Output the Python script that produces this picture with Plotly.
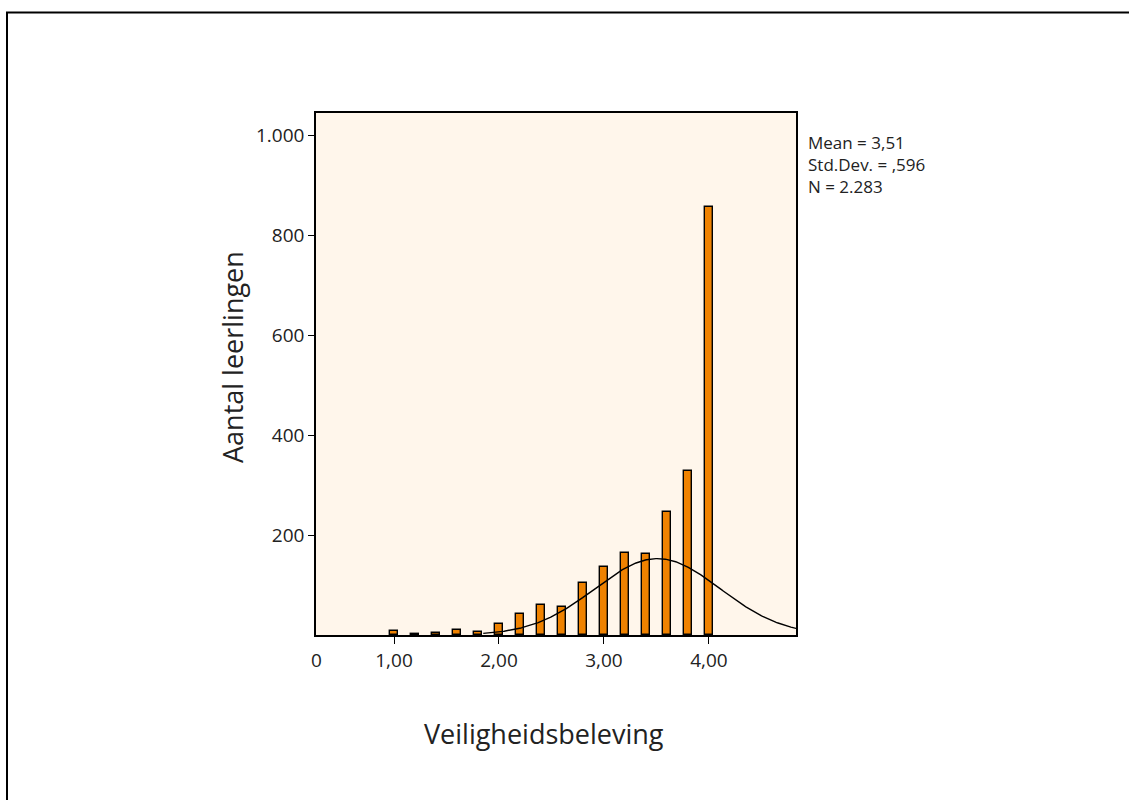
import numpy as np
import plotly.graph_objects as go

# Data
bin_centers = [1.0, 1.2, 1.4, 1.6, 1.8, 2.0, 2.2, 2.4, 2.6, 2.8, 3.0, 3.2, 3.4, 3.6, 3.8, 4.0]
counts = [9, 3, 5, 10, 7, 23, 43, 61, 57, 105, 137, 165, 163, 247, 329, 857]
MEAN = 3.51
SD = 0.596
N = 2283
CURVE_BIN = 0.1

x_tickvals = [1, 2, 3, 4]
x_ticktext = ["1,00", "2,00", "3,00", "4,00"]
y_tickvals = [200, 400, 600, 800, 1000]
y_ticktext = ["200", "400", "600", "800", "1.000"]
stats_lines = ["Mean = 3,51", "Std.Dev. = ,596", "N = 2.283"]

FONT = "Open Sans"

xs = np.linspace(1.85, 4.83, 300)
curve = N * CURVE_BIN / (SD * np.sqrt(2 * np.pi)) * np.exp(-0.5 * ((xs - MEAN) / SD) ** 2)

fig = go.Figure()
fig.add_trace(go.Bar(
    x=bin_centers, y=counts, width=0.072,
    marker=dict(color="#EF8200", line=dict(color="black", width=1.4)),
    showlegend=False, hoverinfo="x+y",
))
fig.add_trace(go.Scatter(
    x=xs, y=curve, mode="lines", line=dict(color="black", width=1.4),
    showlegend=False, hoverinfo="skip",
))

L, R, T, B = 316, 796, 113, 635
PW, PH = R - L, B - T

def px(x):
    return (x - L) / PW

def py(y):
    return (B - y) / PH

annotations = [
    dict(text="0", xref="paper", yref="paper", x=px(316), y=py(660),
         showarrow=False, font=dict(size=19), xanchor="center", yanchor="middle"),
    dict(text="Veiligheidsbeleving", xref="paper", yref="paper", x=px(544), y=py(733),
         showarrow=False, font=dict(size=27), xanchor="center", yanchor="middle"),
    dict(text="Aantal leerlingen", xref="paper", yref="paper", x=px(232), y=py(357),
         showarrow=False, font=dict(size=27), textangle=-90, xanchor="center", yanchor="middle"),
    dict(text="<br>".join(stats_lines), xref="paper", yref="paper",
         x=px(807), y=py(130), showarrow=False, font=dict(size=17), align="left",
         xanchor="left", yanchor="top", borderpad=0),
]

fig.update_layout(
    width=1129, height=800,
    margin=dict(l=L, r=1129 - R, t=T, b=800 - B),
    paper_bgcolor="white",
    plot_bgcolor="#FFF6EB",
    font=dict(family=FONT, size=19, color="#222"),
    xaxis=dict(
        range=[0.257, 4.829], tickvals=x_tickvals, ticktext=x_ticktext,
        ticks="outside", ticklen=7, tickwidth=1.3, tickcolor="black",
        showline=True, mirror=True, linecolor="black", linewidth=1.5,
        showgrid=False, zeroline=False, tickfont=dict(size=19),
    ),
    yaxis=dict(
        range=[0, 1044], tickvals=y_tickvals, ticktext=y_ticktext,
        ticks="outside", ticklen=6, tickwidth=1.3, tickcolor="black",
        showline=True, mirror=True, linecolor="black", linewidth=1.5,
        showgrid=False, zeroline=False, tickfont=dict(size=19),
    ),
    shapes=[dict(
        type="rect", xref="paper", yref="paper",
        x0=px(7), x1=px(1140), y0=py(812), y1=py(12.5),
        line=dict(color="black", width=2), fillcolor="rgba(0,0,0,0)", layer="below",
    )],
    annotations=annotations,
    bargap=0,
)

fig.write_html("out.html")
